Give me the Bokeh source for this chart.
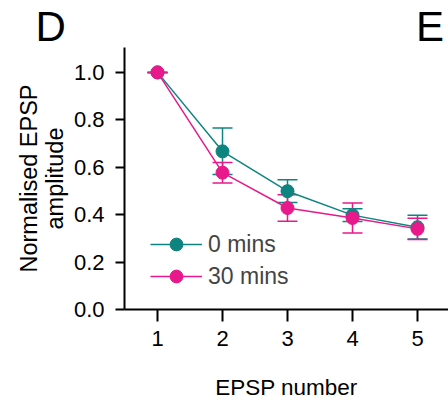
from bokeh.plotting import figure
from bokeh.models import (ColumnDataSource, Whisker, Legend, LegendItem, Title,
                          FixedTicker, Range1d, CustomJSTickFormatter)
from bokeh.embed import file_html
from bokeh.resources import INLINE

epsp = [1, 2, 3, 4, 5]
amp_0 = [1.0, 0.667, 0.499, 0.398, 0.347]
err_0 = [0.0, 0.098, 0.048, 0.027, 0.05]
amp_30 = [1.0, 0.577, 0.428, 0.386, 0.340]
err_30 = [0.0, 0.043, 0.056, 0.063, 0.045]
y_ticks = [0.0, 0.2, 0.4, 0.6, 0.8, 1.0]
series_names = ["0 mins", "30 mins"]
panel_letters = ["D", "E"]

teal = "#0e8480"
pink = "#e8198b"
FONT = "Liberation Sans"

p = figure(width=448, height=402, output_backend="svg", toolbar_location=None,
           x_range=Range1d(0.492, 5.477), y_range=Range1d(0.0, 1.105),
           min_border_left=124, min_border_top=47, min_border_bottom=93, min_border_right=0)
p.outline_line_color = None
p.grid.visible = False

p.title = Title(text=panel_letters[0] + "\u00a0" * 30 + panel_letters[1],
                align="left", offset=-89, standoff=-4,
                text_font=FONT, text_font_size="42px", text_font_style="normal",
                text_line_height=1.0, text_color="black")

def series(vals, errs, color):
    src = ColumnDataSource(dict(x=epsp, y=vals,
                                lo=[v - e for v, e in zip(vals, errs)],
                                hi=[v + e for v, e in zip(vals, errs)]))
    w = Whisker(source=src, base="x", lower="lo", upper="hi",
                line_color=color, line_width=1.5)
    for h in (w.upper_head, w.lower_head):
        h.line_color = color
        h.size = 20
        h.line_width = 1.5
    p.add_layout(w)
    ln = p.line("x", "y", source=src, line_color=color, line_width=1.5)
    sc = p.scatter("x", "y", source=src, size=13, fill_color=color, line_color=color)
    return ln, sc

l0, s0 = series(amp_0, err_0, teal)
l30, s30 = series(amp_30, err_30, pink)

legend = Legend(items=[LegendItem(label=series_names[0], renderers=[l0, s0]),
                       LegendItem(label=series_names[1], renderers=[l30, s30])],
                location=(26, 17), glyph_width=52, glyph_height=32, label_height=20,
                spacing=-6, label_text_font=FONT, label_text_font_size="23px",
                label_standoff=6, padding=0, margin=0,
                border_line_color=None, background_fill_alpha=0)
p.add_layout(legend, "center")

for ax in (p.xaxis[0], p.yaxis[0]):
    ax.axis_line_width = 2
    ax.major_tick_line_width = 2
    ax.minor_tick_line_color = None
    ax.major_label_text_font = FONT
    ax.major_label_text_font_size = "22px"
    ax.major_label_text_color = "black"
    ax.axis_label_text_font = FONT
    ax.axis_label_text_font_style = "normal"
    ax.axis_label_text_color = "black"
    ax.major_tick_in = 0

p.xaxis.ticker = FixedTicker(ticks=epsp)
p.xaxis.major_tick_out = 12
p.xaxis.major_label_standoff = 9
p.xaxis.axis_label = "EPSP number"
p.xaxis.axis_label_text_font_size = "22.5px"
p.xaxis.axis_label_standoff = 26

p.yaxis.ticker = FixedTicker(ticks=y_ticks)
p.yaxis.major_tick_out = 9
p.yaxis.major_label_standoff = 11
p.yaxis.formatter = CustomJSTickFormatter(code="return tick.toFixed(1);")
p.yaxis.axis_label = "Normalised EPSP\namplitude"
p.yaxis.axis_label_text_font_size = "23.5px"
p.yaxis.axis_label_text_line_height = 1.0
p.yaxis.axis_label_standoff = 3

open("out.html", "w").write(file_html(p, INLINE))
